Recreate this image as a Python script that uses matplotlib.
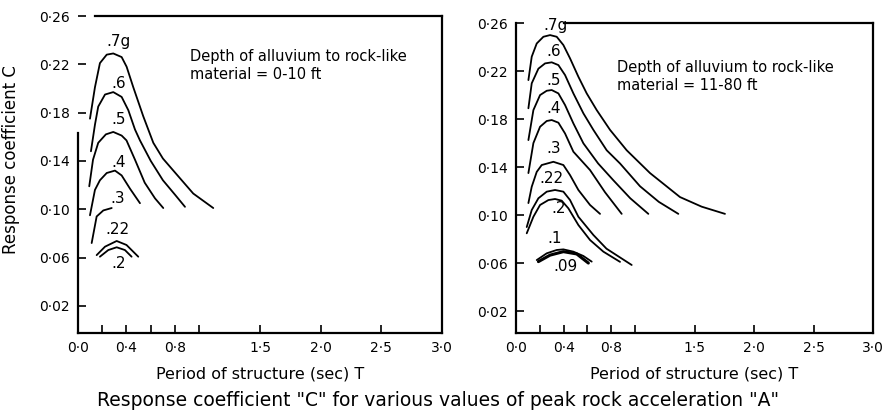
import numpy as np
import matplotlib
matplotlib.use('Agg')
import matplotlib.pyplot as plt

plt.rcParams['font.family'] = ['DejaVu Sans']

# ---- left panel: depth of alluvium 0-10 ft ----
left_t = {
    '.7g': [0.099, 0.140, 0.181, 0.237, 0.291, 0.360, 0.401, 0.456, 0.538, 0.621, 0.700, 0.786, 0.950, 1.115],
    '.6': [0.107, 0.140, 0.167, 0.223, 0.291, 0.360, 0.415, 0.470, 0.511, 0.600, 0.700, 0.800, 0.882],
    '.5': [0.093, 0.124, 0.167, 0.230, 0.291, 0.360, 0.400, 0.470, 0.550, 0.635, 0.703],
    '.4': [0.099, 0.140, 0.181, 0.237, 0.305, 0.360, 0.429, 0.511],
    '.3': [0.113, 0.154, 0.209, 0.278],
    '.22': [0.154, 0.223, 0.319, 0.400, 0.497],
    '.2': [0.181, 0.250, 0.319, 0.387, 0.442],
}
left_c = {
    '.7g': [0.175, 0.201, 0.221, 0.228, 0.229, 0.226, 0.218, 0.201, 0.177, 0.155, 0.142, 0.132, 0.113, 0.101],
    '.6': [0.148, 0.170, 0.185, 0.195, 0.197, 0.193, 0.182, 0.166, 0.157, 0.140, 0.124, 0.112, 0.102],
    '.5': [0.119, 0.141, 0.155, 0.162, 0.164, 0.161, 0.157, 0.141, 0.122, 0.109, 0.101],
    '.4': [0.095, 0.116, 0.124, 0.130, 0.132, 0.128, 0.117, 0.105],
    '.3': [0.072, 0.094, 0.099, 0.101],
    '.22': [0.062, 0.069, 0.0737, 0.0704, 0.0607],
    '.2': [0.0607, 0.0662, 0.0685, 0.0662, 0.0607],
}
left_lbl_t = [0.332, 0.332, 0.332, 0.332, 0.324, 0.324, 0.332]
left_lbl_c = [0.239, 0.204, 0.174, 0.139, 0.109, 0.083, 0.055]

# ---- right panel: depth of alluvium 11-80 ft ----
right_t = {
    '.7g': [0.104, 0.132, 0.174, 0.230, 0.286, 0.342, 0.398, 0.454, 0.524, 0.594, 0.678, 0.790, 0.930, 1.126, 1.378, 1.560, 1.756],
    '.6': [0.104, 0.132, 0.188, 0.244, 0.300, 0.356, 0.412, 0.482, 0.566, 0.650, 0.762, 0.874, 1.042, 1.200, 1.364],
    '.5': [0.104, 0.146, 0.202, 0.258, 0.300, 0.356, 0.412, 0.482, 0.566, 0.690, 0.818, 0.960, 1.112],
    '.4': [0.104, 0.146, 0.202, 0.258, 0.300, 0.356, 0.412, 0.482, 0.622, 0.748, 0.888],
    '.3': [0.104, 0.132, 0.174, 0.216, 0.314, 0.398, 0.454, 0.524, 0.622, 0.706],
    '.22': [0.090, 0.132, 0.188, 0.258, 0.328, 0.398, 0.454, 0.524, 0.650, 0.760, 0.972],
    '.2': [0.090, 0.146, 0.202, 0.272, 0.328, 0.384, 0.440, 0.524, 0.622, 0.734, 0.874],
    '.1': [0.174, 0.258, 0.342, 0.398, 0.482, 0.566, 0.636],
    '.09': [0.188, 0.286, 0.398, 0.510, 0.608],
}
right_c = {
    '.7g': [0.2125, 0.232, 0.243, 0.2486, 0.250, 0.2486, 0.2417, 0.2306, 0.2153, 0.2014, 0.1875, 0.171, 0.154, 0.135, 0.115, 0.107, 0.101],
    '.6': [0.189, 0.2098, 0.222, 0.2264, 0.2273, 0.225, 0.2167, 0.2014, 0.1848, 0.171, 0.154, 0.143, 0.124, 0.111, 0.101],
    '.5': [0.1625, 0.1875, 0.200, 0.2036, 0.2042, 0.2014, 0.1917, 0.1764, 0.1598, 0.143, 0.129, 0.114, 0.101],
    '.4': [0.135, 0.160, 0.1736, 0.1784, 0.1792, 0.177, 0.168, 0.1528, 0.1375, 0.119, 0.101],
    '.3': [0.110, 0.1236, 0.136, 0.1417, 0.1444, 0.1417, 0.1333, 0.1209, 0.1084, 0.101],
    '.22': [0.090, 0.1042, 0.114, 0.1195, 0.1209, 0.1195, 0.1125, 0.0986, 0.0834, 0.072, 0.0584],
    '.2': [0.0848, 0.0986, 0.1084, 0.1125, 0.1134, 0.112, 0.1056, 0.0917, 0.0792, 0.0695, 0.061],
    '.1': [0.0625, 0.0681, 0.0709, 0.0714, 0.0695, 0.0659, 0.0612],
    '.09': [0.0612, 0.0666, 0.0695, 0.0676, 0.060],
}
right_lbl_t = [0.328, 0.314, 0.314, 0.314, 0.314, 0.300, 0.356, 0.328, 0.412]
right_lbl_c = [0.258, 0.236, 0.2125, 0.189, 0.1556, 0.1306, 0.1056, 0.0806, 0.057]

x_ticks = [0.0, 0.2, 0.4, 0.6, 0.8, 1.0, 1.5, 2.0, 2.5, 3.0]
x_tick_labels = ['0·0', '', '0·4', '', '0·8', '', '1·5', '2·0', '2·5', '3·0']
y_ticks = [0.02, 0.06, 0.10, 0.14, 0.18, 0.22, 0.26]
y_tick_labels = ['0·02', '0·06', '0·10', '0·14', '0·18', '0·22', '0·26']

xlabel = 'Period of structure (sec) T'
ylabel = 'Response coefficient C'
caption = 'Response coefficient "C" for various values of peak rock acceleration "A"'
note_left = 'Depth of alluvium to rock-like\nmaterial = 0-10 ft'
note_right = 'Depth of alluvium to rock-like\nmaterial = 11-80 ft'


def setup_axes(ax, ylim):
    ax.set_xlim(0, 3.0)
    ax.set_ylim(*ylim)
    ax.set_xticks(x_ticks)
    ax.set_xticklabels(x_tick_labels, fontsize=10)
    ax.set_yticks(y_ticks)
    ax.set_yticklabels(y_tick_labels, fontsize=10)
    ax.tick_params(direction='in', length=6, width=1.2, pad=6)
    for s in ax.spines.values():
        s.set_linewidth(1.6)
    ax.set_xlabel(xlabel, fontsize=11.5, labelpad=8)


def draw_curves(ax, ts, cs, lbl_t, lbl_c):
    for name, lt, lc in zip(ts, lbl_t, lbl_c):
        lw = 2.2 if name == '.09' else 1.3
        ax.plot(ts[name], cs[name], color='black', lw=lw, solid_capstyle='round',
                solid_joinstyle='round')
        ax.text(lt, lc, name, fontsize=11, ha='center', va='center')


fig = plt.figure(figsize=(8.92, 4.16), dpi=100)
ax1 = fig.add_axes([0.0874, 0.1995, 0.4081, 0.762])
ax2 = fig.add_axes([0.5785, 0.1995, 0.4002, 0.745])

setup_axes(ax1, (-0.0025, 0.26))
draw_curves(ax1, left_t, left_c, left_lbl_t, left_lbl_c)
ax1.spines['left'].set_bounds(-0.0025, 0.163)
ax1.spines['top'].set_bounds(0.14, 3.0)
ax1.text(0.92, 0.233, note_left, fontsize=10.5, va='top', linespacing=1.25)
ax1.set_ylabel(ylabel, fontsize=12)
ax1.yaxis.set_label_coords(-0.159, 0.546)

setup_axes(ax2, (0.0017, 0.26))
draw_curves(ax2, right_t, right_c, right_lbl_t, right_lbl_c)
ax2.spines['top'].set_bounds(0.4, 3.0)
ax2.text(0.85, 0.229, note_right, fontsize=10.5, va='top', linespacing=1.25)

fig.text(438 / 892, 1 - 400 / 416, caption, fontsize=13.5, ha='center', va='center')

plt.savefig('out.png', dpi=100)
